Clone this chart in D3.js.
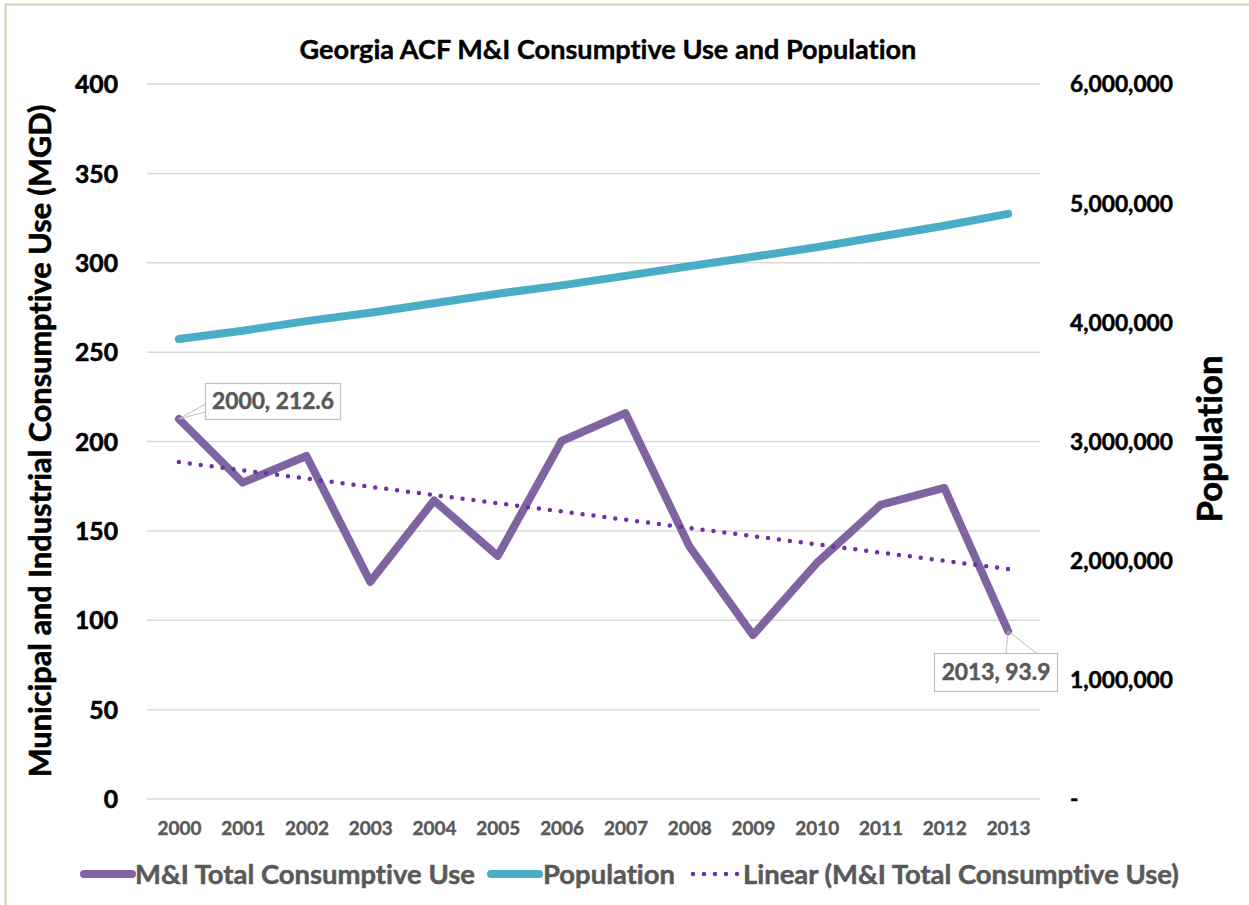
<!DOCTYPE html>
<html>
<head>
<meta charset="utf-8">
<script src="https://cdn.jsdelivr.net/npm/d3@7"></script>
<style>
  html, body { margin: 0; padding: 0; background: #fff; }
  svg { display: block; }
  text { font-family: Lato, "Open Sans", sans-serif; font-weight: bold; font-variant-ligatures: none; }
</style>
</head>
<body>
<svg id="chart" width="1249" height="905"></svg>
<script>
// ---- data ----
const years = ["2000","2001","2002","2003","2004","2005","2006","2007","2008","2009","2010","2011","2012","2013"];
const useValues = [212.6, 177.0, 191.9, 121.5, 167.0, 136.0, 200.3, 215.9, 141.5, 91.7, 132.0, 164.5, 174.0, 93.9];
const popValues = [3860000, 3930000, 4010000, 4080000, 4160000, 4240000, 4310000, 4390000, 4470000, 4550000, 4630000, 4720000, 4810000, 4910000];
const leftTicks = [0, 50, 100, 150, 200, 250, 300, 350, 400];
const rightTicks = [0, 1000000, 2000000, 3000000, 4000000, 5000000, 6000000];
const titleText = "Georgia ACF M&I Consumptive Use and Population";
const leftTitle = "Municipal and Industrial Consumptive Use (MGD)";
const rightTitle = "Population";
const legendLabels = ["M&I Total Consumptive Use", "Population", "Linear (M&I Total Consumptive Use)"];

// ---- layout ----
const svg = d3.select("#chart");
const plotL = 147, plotR = 1040, plotT = 84, plotB = 799;
const purple = "#8064a2", teal = "#4bacc6", trendColor = "#7030a0", gray = "#595959";

svg.append("rect").attr("width", 1249).attr("height", 905).attr("fill", "#fff");
svg.append("rect").attr("x", 5.5).attr("y", 4.5).attr("width", 1400).attr("height", 1000)
  .attr("fill", "none").attr("stroke", "#d8cfad").attr("stroke-width", 2);

const x = d3.scalePoint().domain(years).range([plotL, plotR]).padding(0.5);
const yL = d3.scaleLinear().domain([0, 400]).range([plotB, plotT]);
const yR = d3.scaleLinear().domain([0, 6000000]).range([plotB, plotT]);

function fit(sel, target) {
  const n = sel.node();
  const fs = parseFloat(sel.attr("font-size"));
  const len = n.getComputedTextLength();
  const nfs = fs * target / len;
  sel.attr("font-size", nfs);
  return nfs;
}
function heavy(sel, color, w) {
  sel.attr("stroke", color).attr("stroke-width", w).attr("paint-order", "stroke").attr("stroke-linejoin", "round");
}

// gridlines
svg.append("g").selectAll("line").data(leftTicks).join("line")
  .attr("x1", plotL).attr("x2", plotR)
  .attr("y1", d => yL(d)).attr("y2", d => yL(d))
  .attr("stroke", "#d9d9d9").attr("stroke-width", 1.5);

// left axis
const leftAxis = d3.axisLeft(yL).tickValues(leftTicks).tickSize(0).tickPadding(0).tickFormat(d3.format("d"));
const gL = svg.append("g").attr("transform", `translate(118,0)`).call(leftAxis);
gL.select(".domain").remove();
gL.selectAll("text").attr("font-size", 24).attr("fill", "#000").attr("font-family", "Lato, sans-serif").attr("font-weight", "bold").attr("dy", "0.35em");
{
  const t = gL.selectAll("text").filter(d => d === 400);
  const fs = fit(t, 43);
  gL.selectAll("text").attr("font-size", fs);
  heavy(gL.selectAll("text"), "#000", 0.6);
}

// right axis
const rightAxis = d3.axisRight(yR).tickValues(rightTicks).tickSize(0).tickPadding(0)
  .tickFormat(d => d === 0 ? "-" : d3.format(",")(d));
const gR = svg.append("g").attr("transform", `translate(1070,0)`).call(rightAxis);
gR.select(".domain").remove();
gR.selectAll("text").attr("font-size", 22).attr("fill", "#000").attr("font-family", "Lato, sans-serif").attr("font-weight", "bold").attr("dy", "0.35em");
{
  const t = gR.selectAll("text").filter(d => d === 6000000);
  const fs = fit(t, 103);
  gR.selectAll("text").attr("font-size", fs);
  heavy(gR.selectAll("text"), "#000", 0.5);
}

// x axis
const xAxis = d3.axisBottom(x).tickSize(0).tickPadding(0);
const gX = svg.append("g").attr("transform", `translate(0,828)`).call(xAxis);
gX.select(".domain").remove();
gX.selectAll("text").attr("font-size", 17).attr("fill", gray).attr("font-family", "Lato, sans-serif").attr("font-weight", "bold").attr("dy", "0.35em");
{
  const t = gX.selectAll("text").filter(d => d === "2000");
  const fs = fit(t, 44);
  gX.selectAll("text").attr("font-size", fs);
  heavy(gX.selectAll("text"), gray, 0.4);
}

// title
{
  const t = svg.append("text").attr("x", 608).attr("y", 50).attr("dy", "0.35em").attr("text-anchor", "middle")
    .attr("font-size", 20).attr("fill", "#000").text(titleText);
  fit(t, 617);
  heavy(t, "#000", 0.4);
}
// axis titles
{
  const t = svg.append("text").attr("transform", "translate(40,441) rotate(-90)").attr("dy", "0.35em")
    .attr("text-anchor", "middle").attr("font-size", 26).attr("fill", "#000").text(leftTitle);
  fit(t, 673);
  heavy(t, "#000", 0.6);
  const t2 = svg.append("text").attr("transform", "translate(1210,439) rotate(-90)").attr("dy", "0.35em")
    .attr("text-anchor", "middle").attr("font-size", 26).attr("fill", "#000").text(rightTitle);
  fit(t2, 167);
  heavy(t2, "#000", 0.6);
}

// population line
const popData = years.map((y, i) => ({ y, v: popValues[i] }));
const useData = years.map((y, i) => ({ y, v: useValues[i] }));
svg.append("path").datum(popData)
  .attr("d", d3.line().x(d => x(d.y)).y(d => yR(d.v)))
  .attr("fill", "none").attr("stroke", teal).attr("stroke-width", 8)
  .attr("stroke-linecap", "round").attr("stroke-linejoin", "round");

// M&I line
svg.append("path").datum(useData)
  .attr("d", d3.line().x(d => x(d.y)).y(d => yL(d.v)))
  .attr("fill", "none").attr("stroke", purple).attr("stroke-width", 8)
  .attr("stroke-linecap", "round").attr("stroke-linejoin", "round");

// linear trendline (least squares over the M&I series)
const idx = useValues.map((_, i) => i);
const mx = d3.mean(idx), my = d3.mean(useValues);
const slope = d3.sum(idx, i => (i - mx) * (useValues[i] - my)) / d3.sum(idx, i => (i - mx) * (i - mx));
const icpt = my - slope * mx;
const trendData = [0, years.length - 1].map(i => ({ y: years[i], v: icpt + slope * i }));
svg.append("path").datum(trendData)
  .attr("d", d3.line().x(d => x(d.y)).y(d => yL(d.v)))
  .attr("fill", "none").attr("stroke", trendColor).attr("stroke-width", 4.5)
  .attr("stroke-linecap", "round").attr("stroke-dasharray", "0,11");

// data labels
function dataLabel(i, bx, by, bw, bh, leader) {
  const px = x(years[i]), py = yL(useValues[i]);
  svg.append("path")
    .attr("d", `M${leader[0][0]},${leader[0][1]}L${px},${py}L${leader[1][0]},${leader[1][1]}`)
    .attr("fill", "none").attr("stroke", "#bfbfbf").attr("stroke-width", 1);
  svg.append("rect").attr("x", bx).attr("y", by).attr("width", bw).attr("height", bh)
    .attr("fill", "#fff").attr("stroke", "#bfbfbf").attr("stroke-width", 1.2);
  const t = svg.append("text").attr("x", bx + bw / 2).attr("y", by + bh / 2).attr("dy", "0.35em")
    .attr("text-anchor", "middle").attr("font-size", 20).attr("fill", gray)
    .text(`${years[i]}, ${d3.format(".1f")(useValues[i])}`);
  return t;
}
{
  const t1 = dataLabel(0, 205.5, 383.5, 135, 36, [[205.5, 404], [205.5, 412]]);
  const fs = fit(t1, 122);
  heavy(t1, gray, 0.5);
  const t2 = dataLabel(13, 934.5, 653.5, 123, 38, [[1006, 653.5], [1037, 653.5]]);
  t2.attr("font-size", fs);
  heavy(t2, gray, 0.5);
}

// legend
{
  const ly = 874;
  const items = [
    { x1: 84, x2: 132, tx: 135, color: purple, dash: null, w: 8, tw: 340 },
    { x1: 491, x2: 539, tx: 543, color: teal, dash: null, w: 8, tw: 133 },
    { x1: 693, x2: 740, tx: 743, color: trendColor, dash: "0,11", w: 4.5, tw: 440 }
  ];
  const lg = svg.append("g");
  let fs0 = null;
  items.forEach((it, i) => {
    lg.append("line").attr("x1", it.x1).attr("x2", it.x2).attr("y1", ly).attr("y2", ly)
      .attr("stroke", it.color).attr("stroke-width", it.w).attr("stroke-linecap", "round")
      .attr("stroke-dasharray", it.dash);
    const t = lg.append("text").attr("x", it.tx).attr("y", ly).attr("dy", "0.35em")
      .attr("font-size", 22).attr("fill", gray).text(legendLabels[i]);
    if (i === 0) fs0 = fit(t, it.tw); else t.attr("font-size", fs0);
    heavy(t, gray, 0.5);
  });
}
</script>
</body>
</html>
